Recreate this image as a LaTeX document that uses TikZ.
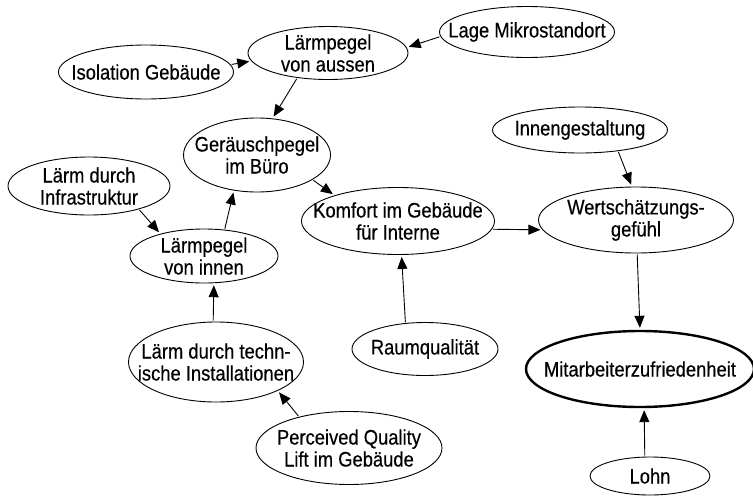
\documentclass[tikz,border=0pt]{standalone}
\usepackage{fontspec}
\setmainfont{Liberation Sans}[FakeStretch=0.875,FakeBold=0.4]
\usetikzlibrary{shapes.geometric,arrows.meta}
\begin{document}
\begin{tikzpicture}[x=1pt,y=-1pt,
  every node/.style={font=\fontsize{21}{22}\selectfont},
  factor/.style={ellipse,draw,line width=0.9pt,inner sep=0pt},
  goal/.style={factor,line width=2.4pt},
  caption/.style={inner sep=0pt,align=center},
  link/.style={line width=0.9pt,-{Triangle[length=12pt,width=10pt]},shorten >=2pt,shorten <=1pt}]
\useasboundingbox (0,0) rectangle (753,496);

% ellipse outlines
\node[factor,minimum width=175pt,minimum height=54pt] (iso)   at (146,72)  {};
\node[factor,minimum width=160pt,minimum height=53pt] (aus)   at (328,53)  {};
\node[factor,minimum width=175pt,minimum height=51pt] (lage)  at (527,32)  {};
\node[factor,minimum width=147pt,minimum height=74pt] (ger)   at (257,155) {};
\node[factor,minimum width=162pt,minimum height=58pt] (infra) at (89,186)  {};
\node[factor,minimum width=148pt,minimum height=54pt] (inn)   at (204,256) {};
\node[factor,minimum width=193pt,minimum height=67pt] (kom)   at (398,221) {};
\node[factor,minimum width=175pt,minimum height=46pt] (ges)   at (580,130) {};
\node[factor,minimum width=195pt,minimum height=66pt] (wert)  at (636,220) {};
\node[factor,minimum width=175pt,minimum height=80pt] (tech)  at (216,362) {};
\node[factor,minimum width=146pt,minimum height=53pt] (raum)  at (425,349) {};
\node[factor,minimum width=186pt,minimum height=73pt] (lift)  at (349,448) {};
\node[goal,minimum width=228pt,minimum height=76pt]   (mit)   at (640,369) {};
\node[factor,minimum width=120pt,minimum height=38pt] (lohn)  at (650,476) {};

% ellipse texts
\node[caption] (isoT)   at (iso)   {Isolation Gebäude};
\node[caption] (ausT)   at (aus)   {Lärmpegel\\von aussen};
\node[caption] (lageT)  at (lage)  {Lage Mikrostandort};
\node[caption] (gerT)   at (ger)   {Geräuschpegel\\im Büro};
\node[caption] (infraT) at (infra) {Lärm durch\\Infrastruktur};
\node[caption] (innT)   at (inn)   {Lärmpegel\\von innen};
\node[caption] (komT)   at (kom)   {Komfort im Gebäude\\für Interne};
\node[caption] (gesT)   at (ges)   {Innengestaltung};
\node[caption] (wertT)  at (wert)  {Wertschätzungs-\\gefühl};
\node[caption] (techT)  at (tech)  {Lärm durch techn-\\ische Installationen};
\node[caption] (raumT)  at (raum)  {Raumqualität};
\node[caption] (liftT)  at (lift)  {Perceived Quality\\Lift im Gebäude};
\node[caption] (mitT)   at (mit)   {Mitarbeiterzufriedenheit};
\node[caption] (lohnT)  at (lohn)  {Lohn};

% influences
\draw[link] (iso.5)    -- (aus.186);
\draw[link] (lage.183) -- (aus.4);
\draw[link] (aus.219)  -- (ger.67);
\draw[link] (infra.335) -- (inn.153);
\draw[link] (inn.52)   -- (ger.237);
\draw[link] (ger.336)  -- (kom.158);
\draw[link] (kom.355)  -- (wert.186);
\draw[link] (ges.331)  -- (wert.97);
\draw[link] (wert.272) -- (mit.90);
\draw[link] (lohn.105) -- (mit.276);
\draw[link] (raum.127) -- (kom.276);
\draw[link] (tech.94)  -- (inn.290);
\draw[link] (lift.148) -- (tech.335);
\end{tikzpicture}
\end{document}
